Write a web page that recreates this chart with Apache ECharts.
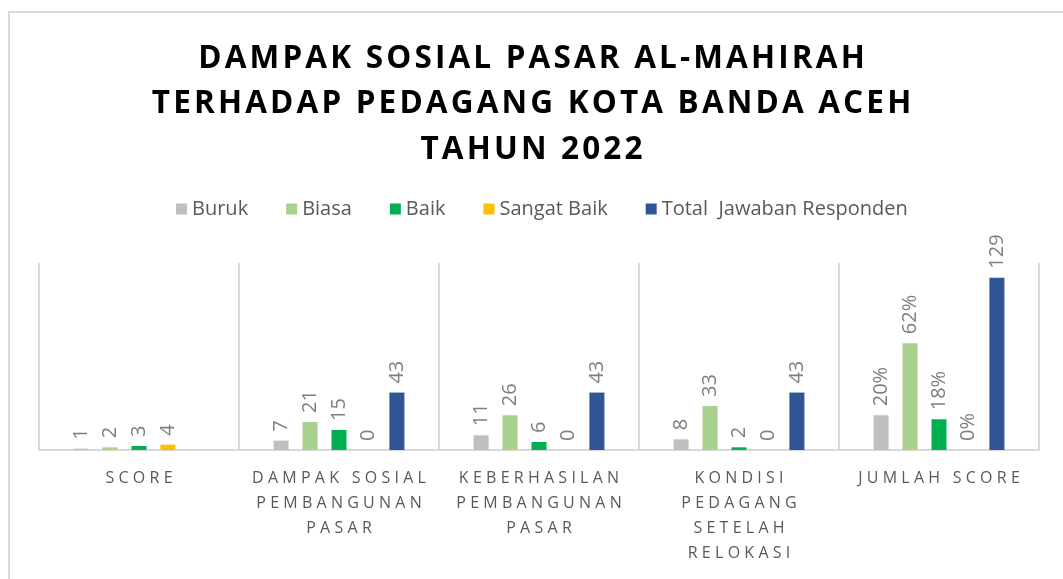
<!DOCTYPE html>
<html><head><meta charset="utf-8">
<script src="https://cdn.jsdelivr.net/npm/echarts@6/dist/echarts.min.js"></script>
<style>html,body{margin:0;padding:0;background:#fff}#c{width:1063px;height:579px}</style>
</head><body><div id="c"></div>
<script>
const titleLines = ['DAMPAK SOSIAL PASAR AL-MAHIRAH', 'TERHADAP PEDAGANG KOTA BANDA ACEH', 'TAHUN 2022'];
const categories = ['SCORE', 'DAMPAK SOSIAL PEMBANGUNAN PASAR', 'KEBERHASILAN PEMBANGUNAN PASAR', 'KONDISI PEDAGANG SETELAH RELOKASI', 'JUMLAH SCORE'];
const categoryLines = [['SCORE'], ['DAMPAK SOSIAL', 'PEMBANGUNAN', 'PASAR'], ['KEBERHASILAN', 'PEMBANGUNAN', 'PASAR'], ['KONDISI', 'PEDAGANG', 'SETELAH', 'RELOKASI'], ['JUMLAH SCORE']];
const seriesNames = ['Buruk', 'Biasa', 'Baik', 'Sangat Baik', 'Total  Jawaban Responden'];
const buruk = [1, 7, 11, 8, 26];
const biasa = [2, 21, 26, 33, 80];
const baik = [3, 15, 6, 2, 23];
const sangatBaik = [4, 0, 0, 0, 0];
const total = [null, 43, 43, 43, 129];
const jumlahLabels = ['20%', '62%', '18%', '0%', '129'];
const colors = ['#bfbfbf', '#a9d18e', '#00b050', '#ffc000', '#2f5597'];

function spaced(s, sep) { return s.split('').join(sep); }

const chart = echarts.init(document.getElementById('c'));
const allData = [buruk, biasa, baik, sangatBaik, total];
const series = allData.map((d, si) => ({
  name: seriesNames[si],
  type: 'bar',
  data: d,
  barWidth: 15,
  barGap: '93%',
  itemStyle: { color: colors[si] },
  label: {
    show: true,
    position: 'top',
    rotate: 90,
    align: 'left',
    verticalAlign: 'middle',
    distance: 9,
    color: '#7f7f7f',
    fontFamily: 'Open Sans',
    fontSize: 20,
    formatter: p => p.value == null ? '' : (p.dataIndex === 4 ? jumlahLabels[si] : String(p.value))
  }
}));

chart.setOption({
  animation: false,
  color: colors,
  title: {
    text: titleLines.map(l => spaced(l, '\u200A')).join('\n'),
    left: 'center',
    top: 31,
    textStyle: { fontFamily: 'Open Sans', fontWeight: 'bold', fontSize: 31.5, lineHeight: 45.5, color: '#000' }
  },
  legend: {
    top: 199,
    left: 176,
    padding: 0,
    itemWidth: 11,
    itemHeight: 11,
    itemGap: 38,
    icon: 'rect',
    textStyle: { fontFamily: 'Open Sans', fontSize: 20, color: '#595959' },
    data: seriesNames
  },
  grid: { left: 39, right: 24, top: 263, bottom: 129, containLabel: false },
  xAxis: {
    type: 'category',
    data: categories,
    axisLine: { lineStyle: { color: '#d9d9d9', width: 2 } },
    axisTick: { show: false },
    splitLine: { show: true, interval: 0, lineStyle: { color: '#d9d9d9', width: 2 } },
    axisLabel: {
      interval: 0,
      margin: 16,
      fontFamily: 'Open Sans',
      fontSize: 16,
      lineHeight: 25,
      color: '#595959',
      formatter: (v, i) => categoryLines[i].map(l => spaced(l, '\u2009\u200A')).join('\n')
    }
  },
  yAxis: {
    type: 'value',
    min: 0,
    max: 140,
    show: false,
    splitLine: { show: false }
  },
  graphic: [{
    type: 'rect',
    shape: { x: 9, y: 12, width: 1100, height: 620 },
    style: { fill: null, stroke: '#d9d9d9', lineWidth: 2 },
    silent: true
  }],
  series: series
});
</script></body></html>
